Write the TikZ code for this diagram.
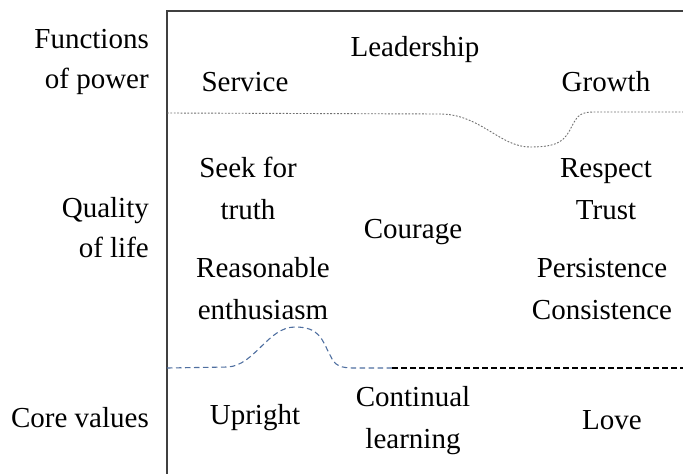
\documentclass[tikz,border=0pt]{standalone}
\usepackage{fontspec}
\setmainfont{Liberation Serif}
\definecolor{axisgray}{HTML}{404040}
\definecolor{dotgray}{HTML}{707070}
\definecolor{dashblue}{HTML}{4F6FA0}
\begin{document}
\begin{tikzpicture}[x=1pt,y=-1pt,
  lbl/.style={font=\fontsize{29}{42}\selectfont, inner sep=0pt, align=center},
  rlbl/.style={font=\fontsize{29}{40}\selectfont, inner sep=0pt, align=right, anchor=east},
  axis/.style={draw=axisgray, line width=1.4pt},
  dotline/.style={draw=dotgray, line width=0.9pt, dash pattern=on 1.8pt off 1.6pt},
  dashline/.style={line width=1.1pt, dash pattern=on 5.5pt off 3.5pt}]
\useasboundingbox (0,0) rectangle (683,474);
% axes
\coordinate (corner) at (167,11);
\coordinate (topright) at (683,11);
\coordinate (bottom) at (167,474);
\draw[axis] (topright) -- (corner) -- (bottom);
% row labels
\node[rlbl] (fp) at (149,62) {Functions\\of power};
\node[rlbl] (ql) at (149,228) {Quality\\of life};
\node[rlbl] (cv) at (149,418) {Core values};
% top row
\node[lbl] (lead) at (415,50) {Leadership};
\node[lbl] (serv) at (245,82) {Service};
\node[lbl] (grow) at (606,82) {Growth};
% middle row
\node[lbl] (seek) at (248,188) {Seek for\\truth};
\node[lbl] (cour) at (413,232) {Courage};
\node[lbl] (resp) at (606,189) {Respect\\Trust};
\node[lbl] (reas) at (263,289) {Reasonable\\enthusiasm};
\node[lbl] (pers) at (602,289) {Persistence\\Consistence};
% bottom row
\node[lbl] (upr) at (255,418) {Upright};
\node[lbl] (cont) at (413,421) {Continual\\learning};
\node[lbl] (love) at (612,420) {Love};
% separators
\draw[dotline] (167,113) -- (440,114) .. controls (480,114) and (500,147) .. (530,147)
  .. controls (560,147) and (565,140) .. (572,126)
  .. controls (578,114) and (582,112) .. (595,112) -- (683,112);
\draw[dashline, draw=dashblue] (167,368) -- (228,367) .. controls (255,365) and (268,327) .. (295,327)
  .. controls (320,327) and (322,340) .. (330,355)
  .. controls (335,366) and (340,368) .. (355,368) -- (392,368);
\draw[dashline, draw=black] (392,368) -- (683,368);
\end{tikzpicture}
\end{document}
